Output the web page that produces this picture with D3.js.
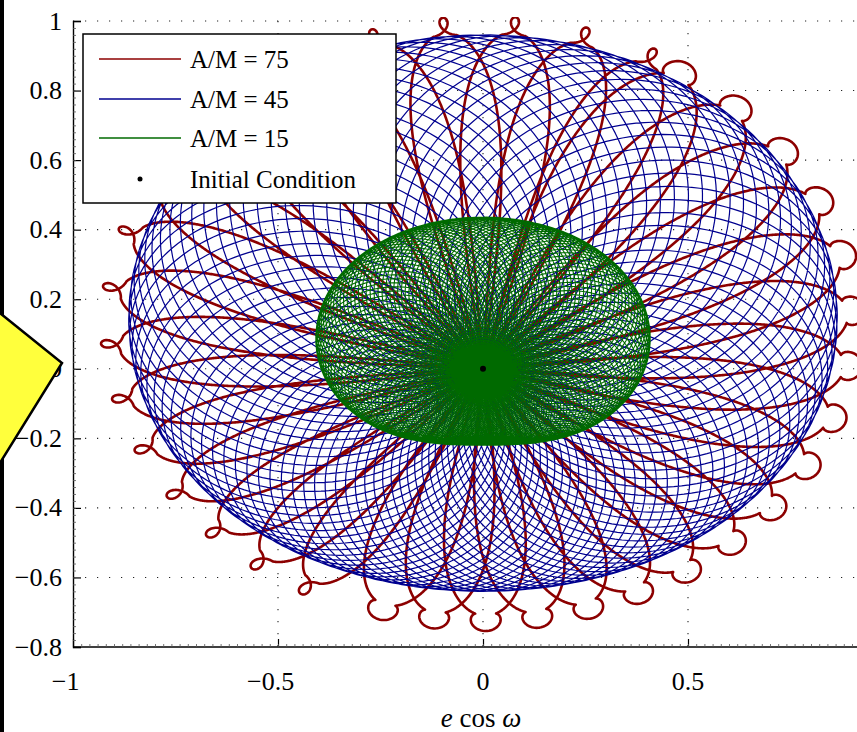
<!DOCTYPE html>
<html>
<head>
<meta charset="utf-8">
<script src="https://cdn.jsdelivr.net/npm/d3@7"></script>
<style>
  html, body { margin: 0; padding: 0; background: #fff; }
  svg { display: block; }
  text { font-family: "Liberation Serif", "Times New Roman", serif; fill: #000; }
</style>
</head>
<body>
<svg id="chart" width="857" height="732"></svg>
<script>
// ---- data ----
var xTickValues = [-1, -0.5, 0, 0.5];
var yTickValues = [-0.8, -0.6, -0.4, -0.2, 0, 0.2, 0.4, 0.6, 0.8, 1];

var seriesLabels = ["A/M = 75", "A/M = 45", "A/M = 15"];
// outer reach of each trajectory (ellipse round the x = 0 line)
var reachCenterY = [0.13, 0.16, 0.108];
var reachHalfX = [0.89, 0.855, 0.40];
var reachHalfY = [0.84, 0.80, 0.328];
// lobes counted round the rim
var lobeCounts = [36, 90, 150];
// size of the little loops at the rim of the A/M = 75 track
var tipLoopSize = [0.022, 0, 0];

var initialCondition = [{ x: 0, y: 0 }];

// ---- styles ----
var colors = ["#8c0000", "#00008f", "#006a00"];
var widths = [2.6, 1.2, 1.1];

var svg = d3.select("#chart");
var margin = { left: 73, top: 21, bottom: 85 };
var W = 857, H = 732;

var x = d3.scaleLinear().domain([-1, 0.95]).range([margin.left, margin.left + 1.95 * 410]);
var y = d3.scaleLinear().domain([-0.8, 1]).range([H - margin.bottom, margin.top]);

// radius from the origin to the reach ellipse, in direction th
function reach(i, th) {
  var c = Math.cos(th), s = Math.sin(th);
  var A = reachHalfX[i], B = reachHalfY[i], cy = reachCenterY[i];
  var a = c * c / (A * A) + s * s / (B * B);
  var b = -2 * s * cy / (B * B);
  var cc = cy * cy / (B * B) - 1;
  return (-b + Math.sqrt(b * b - 4 * a * cc)) / (2 * a);
}

// loops through the origin, slowly turning round
function loopTrack(i) {
  var N = lobeCounts[i], steps = 140, pts = [];
  for (var j = 0; j <= N * steps; j++) {
    var s = j / steps * 2 * Math.PI;
    var psi = 0.4 + s / N;
    var D = reach(i, psi);
    var a = (1 - Math.cos(s)) / 2, b = 0.45 * Math.sin(s);
    var c = Math.cos(psi), sn = Math.sin(psi);
    pts.push([D * (a * c - b * sn), D * (a * sn + b * c)]);
  }
  return pts;
}

// petals out to the rim, with a small loop at each tip
function rosetteTrack(i) {
  var K = lobeCounts[i], steps = 600, pts = [];
  var rho = tipLoopSize[i], m = 24, kappa = 0.25;
  for (var j = 0; j <= K * steps; j++) {
    var t = j / steps * Math.PI;
    var psi = 1.1 + t / K;
    var st = Math.sin(t), ct = Math.cos(t);
    var R = reach(i, st >= 0 ? psi : psi + Math.PI);
    var ux = Math.cos(psi), uy = Math.sin(psi);
    var px = st * R * ux - kappa * R * st * ct * uy;
    var py = st * R * uy + kappa * R * st * ct * ux;
    var k = Math.round((t - Math.PI / 2) / Math.PI);
    var u = t - (Math.PI / 2 + k * Math.PI);
    if (Math.abs(u) < Math.PI / m) {
      var sg = (k % 2) ? -1 : 1;
      var f = rho * (1 + Math.cos(m * u)), g = rho * Math.sin(m * u);
      px += sg * (f * ux - g * uy);
      py += sg * (f * uy + g * ux);
    }
    pts.push([px, py]);
  }
  return pts;
}

svg.append("defs").append("clipPath").attr("id", "plotClip")
  .append("rect")
  .attr("x", margin.left).attr("y", margin.top - 4)
  .attr("width", W - margin.left).attr("height", y(-0.8) - margin.top + 4);

// grid
var grid = svg.append("g").attr("class", "grid")
  .attr("stroke", "#222").attr("stroke-width", 1.1).attr("stroke-dasharray", "1.2,10.8");
grid.selectAll(".gx").data(xTickValues.filter(function (d) { return d > -1; }))
  .enter().append("line")
  .attr("x1", function (d) { return x(d); }).attr("x2", function (d) { return x(d); })
  .attr("y1", y(1)).attr("y2", y(-0.8));
grid.selectAll(".gy").data(yTickValues.filter(function (d) { return d > -0.8; }))
  .enter().append("line")
  .attr("y1", function (d) { return y(d); }).attr("y2", function (d) { return y(d); })
  .attr("x1", x(-1)).attr("x2", W);

// trajectories
var line = d3.line().x(function (d) { return x(d[0]); }).y(function (d) { return y(d[1]); });
var plot = svg.append("g").attr("clip-path", "url(#plotClip)");
var tracks = [rosetteTrack(0), loopTrack(1), loopTrack(2)];
tracks.forEach(function (pts, i) {
  plot.append("path")
    .attr("d", line(pts))
    .attr("fill", "none")
    .attr("stroke", colors[i])
    .attr("stroke-width", widths[i])
    .attr("stroke-linejoin", "round");
});
plot.selectAll(".ic").data(initialCondition).enter().append("circle")
  .attr("cx", function (d) { return x(d.x); })
  .attr("cy", function (d) { return y(d.y); })
  .attr("r", 3).attr("fill", "#000");

// axes
var xAxis = svg.append("g").attr("transform", "translate(0," + y(-0.8) + ")")
  .call(d3.axisBottom(x).tickValues(xTickValues).tickSize(-8).tickFormat(""));
var xMinor = svg.append("g").attr("transform", "translate(0," + y(-0.8) + ")")
  .call(d3.axisBottom(x).tickValues(d3.range(-0.98, 0.95, 0.02)).tickSize(-3).tickFormat(""));
var yAxis = svg.append("g").attr("transform", "translate(" + x(-1) + ",0)")
  .call(d3.axisLeft(y).tickValues(yTickValues).tickSize(-8).tickFormat(""));
var yMinor = svg.append("g").attr("transform", "translate(" + x(-1) + ",0)")
  .call(d3.axisLeft(y).tickValues(d3.range(-0.78, 1, 0.02)).tickSize(-3).tickFormat(""));
[xAxis, yAxis].forEach(function (g) {
  g.select(".domain").attr("stroke", "#000").attr("stroke-width", 1.4);
  g.selectAll(".tick line").attr("stroke", "#000").attr("stroke-width", 1.2);
});
[xMinor, yMinor].forEach(function (g) {
  g.select(".domain").remove();
  g.selectAll(".tick line").attr("stroke", "#555").attr("stroke-width", 0.8);
});
xAxis.select(".domain").attr("d", "M" + x(-1) + ",0H" + W);

function numText(v) { return String(Math.abs(v)); }

// y tick labels
svg.append("g").selectAll("text").data(yTickValues).enter().append("text")
  .attr("x", 62).attr("y", function (d) { return y(d) + 8.5; })
  .attr("text-anchor", "end").attr("font-size", 26)
  .text(function (d) { return (d < 0 ? "\u2212" : "") + numText(d); });

// x tick labels: number centred on the tick, minus sign hung before it
var xl = svg.append("g");
xTickValues.forEach(function (v) {
  var t = xl.append("text").attr("x", x(v)).attr("y", 690)
    .attr("text-anchor", "middle").attr("font-size", 26).text(numText(v));
  if (v < 0) {
    var w = t.node().getComputedTextLength();
    xl.append("text").attr("x", x(v) - w / 2).attr("y", 690)
      .attr("text-anchor", "end").attr("font-size", 26).text("\u2212");
  }
});

// x axis label
var lab = svg.append("text").attr("x", 481).attr("y", 727)
  .attr("text-anchor", "middle").attr("font-size", 27);
lab.append("tspan").attr("font-style", "italic").text("e");
lab.append("tspan").text(" cos ");
lab.append("tspan").attr("font-style", "italic").text("\u03c9");

// legend
var leg = svg.append("g");
leg.append("rect").attr("x", 83).attr("y", 34).attr("width", 313).attr("height", 169)
  .attr("fill", "#fff").attr("stroke", "#000").attr("stroke-width", 1.5);
var rowY = [59, 99, 138, 179];
seriesLabels.forEach(function (s, i) {
  leg.append("line").attr("x1", 99).attr("x2", 181).attr("y1", rowY[i]).attr("y2", rowY[i])
    .attr("stroke", colors[i]).attr("stroke-width", 1.4);
  leg.append("text").attr("x", 190).attr("y", rowY[i] + 9).attr("font-size", 25).text(s);
});
leg.append("circle").attr("cx", 140).attr("cy", rowY[3]).attr("r", 2.5).attr("fill", "#000");
leg.append("text").attr("x", 190).attr("y", rowY[3] + 9).attr("font-size", 25).text("Initial Condition");

// page decorations at the left edge
svg.append("rect").attr("x", 0).attr("y", 0).attr("width", 4).attr("height", H).attr("fill", "#000");
svg.append("polygon")
  .attr("points", "-40,281 62,363 -20,495 -100,400")
  .attr("fill", "#ffff3c").attr("stroke", "#000").attr("stroke-width", 2.5)
  .attr("stroke-linejoin", "miter");
</script>
</body>
</html>
